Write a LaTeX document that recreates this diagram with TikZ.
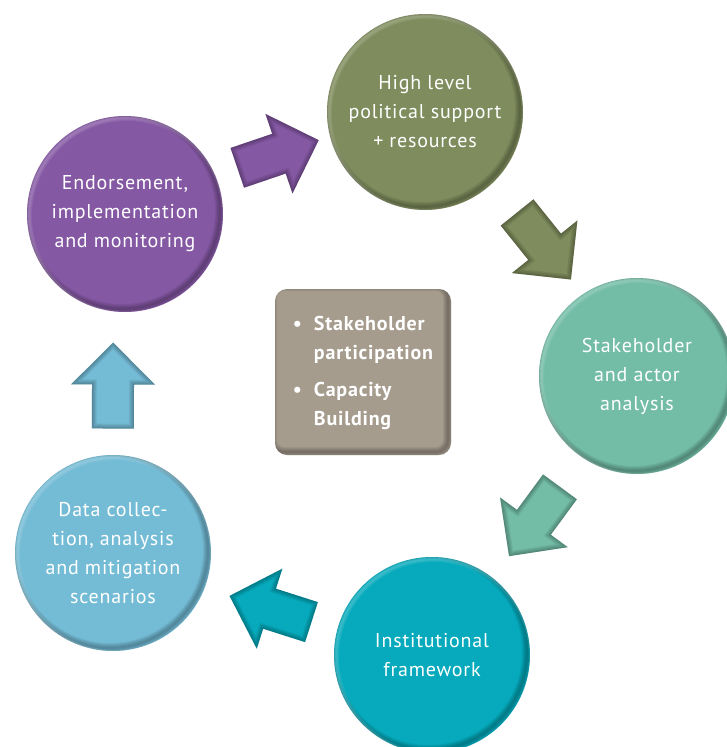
\documentclass[tikz,border=0pt]{standalone}
\usepackage{fontspec}
\setmainfont{PT Sans}[LetterSpace=4.0]
\usepackage{tikz}
\usetikzlibrary{
  calc,
}
\definecolor{stagepurple}{RGB}{133, 88, 164}
\definecolor{stageolive}{RGB}{127, 140, 93}
\definecolor{stagemint}{RGB}{115, 189, 167}
\definecolor{stageteal}{RGB}{6, 170, 188}
\definecolor{stagesky}{RGB}{116, 188, 214}
\definecolor{corestone}{RGB}{166, 156, 142}
\tikzstyle{stage} = [
  circle,
  minimum size=196pt,
  inner sep=0pt,
  text=white,
  align=center,
  font=\fontsize{20}{29}\selectfont,
  path picture={
    \foreach \w in {2,4,...,10}
      \draw[black, opacity=0.06, line width=\w pt]
        ($(path picture bounding box.center)+(-3pt,3pt)$) circle (98pt);
    \foreach \w in {2,4,6}
      \draw[white, opacity=0.07, line width=\w pt]
        ($(path picture bounding box.center)+(2pt,-2pt)$) circle (98pt);
  },
]
\tikzstyle{core} = [
  rectangle,
  rounded corners=12pt,
  minimum width=176pt,
  minimum height=166pt,
  fill=corestone,
  text=white,
  font=\bfseries\fontsize{20}{29}\selectfont,
  path picture={
    \foreach \w in {2,4,...,10}
      \draw[black, opacity=0.06, line width=\w pt, rounded corners=12pt]
        ($(path picture bounding box.south west)+(-3pt,3pt)$) rectangle
        ($(path picture bounding box.north east)+(-3pt,3pt)$);
  },
]
% block arrow, drawn half way between two stages and turned towards the second
\newcommand{\arrowpath}{(-43,-21) -- (1,-21) -- (1,-42) -- (43,0) -- (1,42) -- (1,21) -- (-43,21) -- cycle}
\newcommand{\stagearrow}[4][]{%
  \pgfmathanglebetweenpoints{\pgfpointanchor{#2}{center}}{\pgfpointanchor{#3}{center}}%
  \edef\arrowangle{\pgfmathresult}%
  \begin{scope}[shift={($(#2)!0.5!(#3)$)}, #1, rotate=\arrowangle]
    \fill[#4] \arrowpath;
    \begin{scope}
      \clip \arrowpath;
      \foreach \w in {2,4,...,10}
        \draw[black, opacity=0.06, line width=\w pt] \arrowpath;
    \end{scope}
  \end{scope}}

\begin{document}
\begin{tikzpicture}[x=1pt, y=-1pt]

        \useasboundingbox[fill=white] (0,0) rectangle (727,747);

        \node[stage, fill=stageolive] (support) at (425,112) {High level\\political support\\+ resources};
        \node[stage, fill=stagemint] (actors) at (637,376) {Stakeholder\\and actor\\analysis};
        \node[stage, fill=stageteal] (framework) at (432,655) {Institutional\\framework};
        \node[stage, fill=stagesky] (data) at (113,553) {Data collec-\\tion, analysis\\and mitigation\\scenarios};
        \node[stage, fill=stagepurple] (endorse) at (125,214) {Endorsement,\\implementation\\and monitoring};

        \node[core] (core) at (363,372) {%
          \begin{tabular}{@{}l@{\hspace{12pt}}l@{}}
            \textbullet & Stakeholder\\
                        & participation\\[8pt]
            \textbullet & Capacity\\
                        & Building
          \end{tabular}};

        \stagearrow[xshift=3pt, yshift=9pt]{endorse}{support}{stagepurple}
        \stagearrow[xshift=13pt, yshift=-2pt]{support}{actors}{stageolive}
        \stagearrow[yshift=-6pt]{actors}{framework}{stagemint}
        \stagearrow[xshift=-2pt, yshift=-5pt]{framework}{data}{stageteal}
        \stagearrow[xshift=-6pt, yshift=-2pt, rotate=2]{data}{endorse}{stagesky}

\end{tikzpicture}
\end{document}
